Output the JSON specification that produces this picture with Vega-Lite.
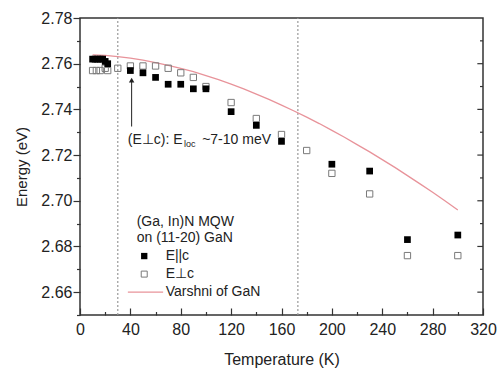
{
  "$schema": "https://vega.github.io/schema/vega-lite/v6.json",
  "width": 403,
  "height": 297,
  "autosize": {"type": "none"},
  "padding": {"left": 80, "top": 18, "right": 20, "bottom": 53},
  "config": {
    "view": {"stroke": "#333", "strokeWidth": 1.5},
    "font": "Liberation Sans",
    "axis": {"labelFont": "Liberation Sans", "titleFont": "Liberation Sans", "labelColor": "#222", "titleColor": "#222", "tickColor": "#333", "tickWidth": 1.2, "domain": false, "grid": false, "labelFontSize": 16, "titleFontSize": 16, "titleFontWeight": "normal"}
  },
  "datasets": {
    "par": [
      {"T": 10, "E": 2.762}, {"T": 12, "E": 2.762}, {"T": 14, "E": 2.762}, {"T": 16, "E": 2.762}, {"T": 18, "E": 2.762}, {"T": 20, "E": 2.761}, {"T": 22, "E": 2.760},
      {"T": 40, "E": 2.757}, {"T": 50, "E": 2.756}, {"T": 60, "E": 2.754}, {"T": 70, "E": 2.751}, {"T": 80, "E": 2.751}, {"T": 90, "E": 2.749}, {"T": 100, "E": 2.749},
      {"T": 120, "E": 2.739}, {"T": 140, "E": 2.733}, {"T": 160, "E": 2.726}, {"T": 200, "E": 2.716}, {"T": 230, "E": 2.713}, {"T": 260, "E": 2.683}, {"T": 300, "E": 2.685}
    ],
    "perp": [
      {"T": 10, "E": 2.757}, {"T": 13, "E": 2.757}, {"T": 16, "E": 2.757}, {"T": 20, "E": 2.758}, {"T": 22, "E": 2.757}, {"T": 30, "E": 2.758},
      {"T": 40, "E": 2.759}, {"T": 50, "E": 2.759}, {"T": 60, "E": 2.759}, {"T": 70, "E": 2.758}, {"T": 80, "E": 2.756}, {"T": 90, "E": 2.754}, {"T": 100, "E": 2.750},
      {"T": 120, "E": 2.743}, {"T": 140, "E": 2.736}, {"T": 160, "E": 2.729}, {"T": 180, "E": 2.722}, {"T": 200, "E": 2.712}, {"T": 230, "E": 2.703}, {"T": 260, "E": 2.676}, {"T": 300, "E": 2.676}
    ],
    "varshni": [
      {"T": 10, "E": 2.7639}, {"T": 20, "E": 2.7636}, {"T": 30, "E": 2.7631}, {"T": 40, "E": 2.7624}, {"T": 50, "E": 2.7616}, {"T": 60, "E": 2.7605},
      {"T": 70, "E": 2.7593}, {"T": 80, "E": 2.7580}, {"T": 90, "E": 2.7565}, {"T": 100, "E": 2.7548}, {"T": 110, "E": 2.7530}, {"T": 120, "E": 2.7511},
      {"T": 130, "E": 2.7490}, {"T": 140, "E": 2.7467}, {"T": 150, "E": 2.7444}, {"T": 160, "E": 2.7419}, {"T": 170, "E": 2.7393}, {"T": 180, "E": 2.7366},
      {"T": 190, "E": 2.7338}, {"T": 200, "E": 2.7308}, {"T": 210, "E": 2.7278}, {"T": 220, "E": 2.7246}, {"T": 230, "E": 2.7214}, {"T": 240, "E": 2.7180},
      {"T": 250, "E": 2.7146}, {"T": 260, "E": 2.7110}, {"T": 270, "E": 2.7074}, {"T": 280, "E": 2.7037}, {"T": 290, "E": 2.6999}, {"T": 300, "E": 2.6960}
    ],
    "rightticks": [
      {"E": 2.66, "T": 320, "T2": 315.5}, {"E": 2.67, "T": 320, "T2": 317.6}, {"E": 2.68, "T": 320, "T2": 315.5}, {"E": 2.69, "T": 320, "T2": 317.6},
      {"E": 2.70, "T": 320, "T2": 315.5}, {"E": 2.71, "T": 320, "T2": 317.6}, {"E": 2.72, "T": 320, "T2": 315.5}, {"E": 2.73, "T": 320, "T2": 317.6},
      {"E": 2.74, "T": 320, "T2": 315.5}, {"E": 2.75, "T": 320, "T2": 317.6}, {"E": 2.76, "T": 320, "T2": 315.5}, {"E": 2.77, "T": 320, "T2": 317.6}
    ],
    "texts": [
      {"T": 38, "E": 2.7266, "label": "(E⊥c): E", "size": 14, "style": "normal"},
      {"T": 82.5, "E": 2.7248, "label": "loc", "size": 9, "style": "normal"},
      {"T": 97, "E": 2.7266, "label": " ~7-10 meV", "size": 14, "style": "normal"},
      {"T": 45, "E": 2.6907, "label": "(Ga, In)N MQW", "size": 14, "style": "normal"},
      {"T": 45, "E": 2.6836, "label": "on (11-20) GaN", "size": 14, "style": "normal"},
      {"T": 68, "E": 2.6758, "label": "E||", "size": 14, "style": "normal"},
      {"T": 81, "E": 2.6758, "label": "c", "size": 14, "style": "italic"},
      {"T": 68, "E": 2.6679, "label": "E⊥", "size": 14, "style": "normal"},
      {"T": 85, "E": 2.6679, "label": "c", "size": 14, "style": "italic"},
      {"T": 68, "E": 2.6600, "label": "Varshni of GaN", "size": 14, "style": "normal"}
    ]
  },
  "encoding": {
    "x": {"field": "T", "type": "quantitative", "scale": {"domain": [0, 320], "nice": false, "zero": false},
      "axis": {"values": [0, 20, 40, 60, 80, 100, 120, 140, 160, 180, 200, 220, 240, 260, 280, 300, 320],
        "labelExpr": "datum.value % 40 == 0 ? datum.label : ''",
        "tickSize": {"condition": {"test": "datum.value % 40 == 0", "value": -7}, "value": -3.5},
        "labelPadding": 13, "title": "Temperature (K)", "titlePadding": 14, "labelFlush": false}},
    "y": {"field": "E", "type": "quantitative", "scale": {"domain": [2.65, 2.78], "nice": false, "zero": false},
      "axis": {"values": [2.65, 2.66, 2.67, 2.68, 2.69, 2.70, 2.71, 2.72, 2.73, 2.74, 2.75, 2.76, 2.77, 2.78],
        "labelExpr": "round(datum.value*100) % 2 == 0 ? format(datum.value, '.2f') : ''",
        "tickSize": {"condition": {"test": "round(datum.value*100) % 2 == 0", "value": 7}, "value": 3.5},
        "labelPadding": 1, "title": "Energy (eV)", "titleFontSize": 15, "titlePadding": 11}}
  },
  "layer": [
    {
      "data": {"values": [{"T": 30, "E": 2.65, "E2": 2.78}, {"T": 173, "E": 2.65, "E2": 2.78}]},
      "mark": {"type": "rule", "color": "#999", "strokeDash": [2, 2], "strokeWidth": 1.2},
      "encoding": {"y2": {"field": "E2"}}
    },
    {
      "data": {"name": "rightticks"},
      "mark": {"type": "rule", "color": "#333", "strokeWidth": 1.2},
      "encoding": {"x2": {"field": "T2"}}
    },
    {
      "data": {"name": "varshni"},
      "mark": {"type": "line", "color": "#e8939a", "strokeWidth": 1.3}
    },
    {
      "data": {"name": "perp"},
      "mark": {"type": "point", "shape": "square", "filled": false, "stroke": "#7a7a7a", "strokeWidth": 1, "size": 40, "opacity": 1}
    },
    {
      "data": {"name": "par"},
      "mark": {"type": "point", "shape": "square", "filled": true, "color": "#000", "size": 45, "opacity": 1}
    },
    {
      "data": {"values": [{"T": 41, "E": 2.7325, "E2": 2.7525}]},
      "mark": {"type": "rule", "color": "#222", "strokeWidth": 1},
      "encoding": {"y2": {"field": "E2"}}
    },
    {
      "data": {"values": [{"T": 41, "E": 2.7528}]},
      "mark": {"type": "point", "shape": "triangle-up", "filled": true, "color": "#222", "size": 30, "opacity": 1}
    },
    {
      "data": {"values": [{"T": 51, "E": 2.6758}]},
      "mark": {"type": "point", "shape": "square", "filled": true, "color": "#000", "size": 40, "opacity": 1}
    },
    {
      "data": {"values": [{"T": 51, "E": 2.6679}]},
      "mark": {"type": "point", "shape": "square", "filled": false, "stroke": "#7a7a7a", "strokeWidth": 1, "size": 36, "opacity": 1}
    },
    {
      "data": {"values": [{"T": 38, "T2": 66, "E": 2.6600}]},
      "mark": {"type": "rule", "color": "#e8939a", "strokeWidth": 1.3},
      "encoding": {"x2": {"field": "T2"}}
    },
    {
      "data": {"name": "texts"},
      "mark": {"type": "text", "align": "left", "baseline": "middle", "color": "#222", "font": "Liberation Sans"},
      "encoding": {
        "text": {"field": "label"},
        "size": {"field": "size", "type": "quantitative", "scale": null},
        "fontStyle": {"field": "style", "type": "nominal", "scale": null}
      }
    }
  ]
}
